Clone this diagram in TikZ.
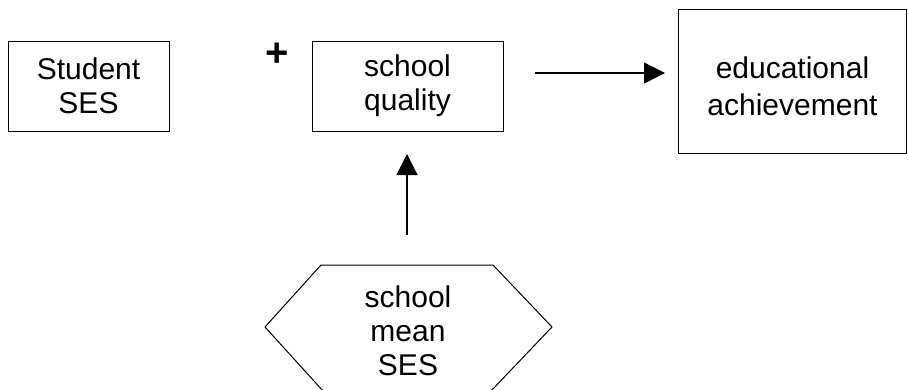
\documentclass[tikz,border=0pt]{standalone}
\usepackage{fontspec}
\setmainfont{Liberation Sans}
\usetikzlibrary{arrows.meta}
\begin{document}
\begin{tikzpicture}[x=1pt,y=-1pt,
  txt/.style={inner sep=0pt,align=center,font=\fontsize{30}{34}\selectfont},
  box/.style={txt,draw,line width=1pt},
  arr/.style={line width=1.2pt,-{Triangle[length=21pt,width=21pt]}},
  hexline/.style={line width=1pt,line join=miter}]
\useasboundingbox (0,0) rectangle (908,389);
\node[box,minimum width=161pt,minimum height=90pt] (student) at (88.5,86) {Student\\SES};
\node[box,minimum width=191pt,minimum height=90pt] (quality) at (407.5,86) {school\\quality};
\node[box,minimum width=228pt,minimum height=144pt] (edu) at (792.5,81) {};
\node[txt,font=\fontsize{30}{37}\selectfont] (edutxt) at (792.5,86) {educational\\achievement};
\node[txt,font=\fontsize{40}{40}\selectfont\bfseries] (plus) at (277,55) {+};
\draw[hexline] (321,265) coordinate (h1) -- (493,265) coordinate (h2) -- (552,327) coordinate (h3)
  -- (490,392) coordinate (h4) -- (324,392) coordinate (h5) -- (265,327) coordinate (h6) -- cycle;
\node[txt] (mses) at (408,331) {school\\mean\\SES};
\coordinate (a1) at (535,73);
\coordinate (a2) at (665,73);
\draw[arr] (a1) -- (a2);
\coordinate (b1) at (407,235);
\coordinate (b2) at (407,154);
\draw[arr] (b1) -- (b2);
\end{tikzpicture}
\end{document}
